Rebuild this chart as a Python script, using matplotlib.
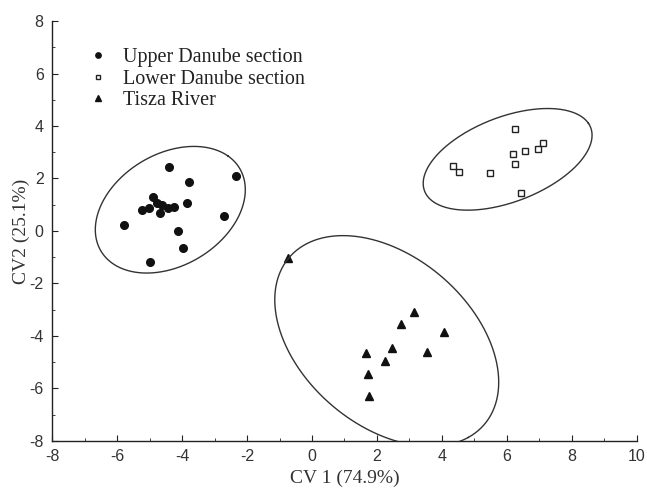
import numpy as np
import matplotlib
matplotlib.use("Agg")
import matplotlib.pyplot as plt
from matplotlib.ticker import MultipleLocator

plt.rcParams["axes.unicode_minus"] = False

# canonical variate scores
ud_x = [-4.40, -2.34, -3.78, -4.88, -4.78, -3.86, -4.62, -5.01, -5.24, -4.42, -4.25, -4.68, -2.70, -5.78, -4.11, -3.96, -4.98]
ud_y = [2.45, 2.11, 1.87, 1.31, 1.06, 1.08, 0.99, 0.86, 0.80, 0.86, 0.93, 0.70, 0.58, 0.24, 0.01, -0.65, -1.17]

ld_x = [6.24, 7.10, 6.95, 6.56, 6.17, 4.35, 4.51, 6.24, 5.49, 6.43]
ld_y = [3.89, 3.36, 3.14, 3.04, 2.95, 2.46, 2.26, 2.54, 2.22, 1.46]

ti_x = [-0.75, 3.13, 2.73, 4.06, 2.45, 3.54, 1.65, 2.24, 1.71, 1.76]
ti_y = [-1.04, -3.10, -3.53, -3.86, -4.45, -4.60, -4.66, -4.94, -5.45, -6.27]

labels = ["Upper Danube section", "Lower Danube section", "Tisza River"]

# ellipses: centre x, centre y, semi-axis a, semi-axis b, angle (deg)
ellipses = [
    (-4.36, 0.81, 2.71, 1.95, 49.0),
    (6.02, 2.73, 2.84, 1.56, 28.9),
    (2.30, -4.19, 4.45, 2.86, -55.7),
]


def ellipse_xy(cx, cy, a, b, ang):
    t = np.linspace(0, 2 * np.pi, 400)
    th = np.radians(ang)
    x = cx + a * np.cos(th) * np.cos(t) - b * np.sin(th) * np.sin(t)
    y = cy + a * np.sin(th) * np.cos(t) + b * np.cos(th) * np.sin(t)
    return x, y


fig = plt.figure(figsize=(6.47, 4.92), dpi=100)
ax = fig.add_axes([0.0804, 0.1037, 0.9041, 0.8536])

ax.plot(ud_x, ud_y, "o", color="#111111", ms=5.5, mec="#111111", label=labels[0])
ax.plot(ld_x, ld_y, "s", color="white", ms=5, mec="#222222", mew=1.0, label=labels[1])
ax.plot(ti_x, ti_y, "^", color="#111111", ms=6, mec="#111111", label=labels[2])

for e in ellipses:
    ex, ey = ellipse_xy(*e)
    ax.plot(ex, ey, color="#333333", lw=1.0)

ax.set_xlim(-8, 10)
ax.set_ylim(-8, 8)
ax.xaxis.set_major_locator(MultipleLocator(2))
ax.xaxis.set_minor_locator(MultipleLocator(1))
ax.yaxis.set_major_locator(MultipleLocator(2))
ax.yaxis.set_minor_locator(MultipleLocator(1))

ax.spines["top"].set_visible(False)
ax.spines["right"].set_visible(False)
for s in ["left", "bottom"]:
    ax.spines[s].set_color("#222222")
    ax.spines[s].set_linewidth(1.0)

ax.tick_params(which="both", direction="in", color="#222222", labelcolor="#333333",
               labelsize=11.5, labelfontfamily="Liberation Sans")
ax.tick_params(which="major", length=4, pad=6)
ax.tick_params(which="minor", length=2.5)

ax.set_xlabel("CV 1 (74.9%)", fontsize=14, family="Liberation Serif", color="#333333")
ax.set_ylabel("CV2 (25.1%)", fontsize=14, family="Liberation Serif", color="#333333")
ax.xaxis.set_label_coords(0.5, -0.068)
ax.yaxis.set_label_coords(-0.037, 0.5)

leg = ax.legend(loc="upper left", bbox_to_anchor=(0.0615, 0.935), frameon=False,
                prop={"family": "Liberation Serif", "size": 14.5}, markerscale=0.7,
                borderaxespad=0, borderpad=0,
                handlelength=1.0, handletextpad=0.72, labelspacing=0.12)
for t in leg.get_texts():
    t.set_color("#222222")

fig.savefig("out.png", dpi=100)
